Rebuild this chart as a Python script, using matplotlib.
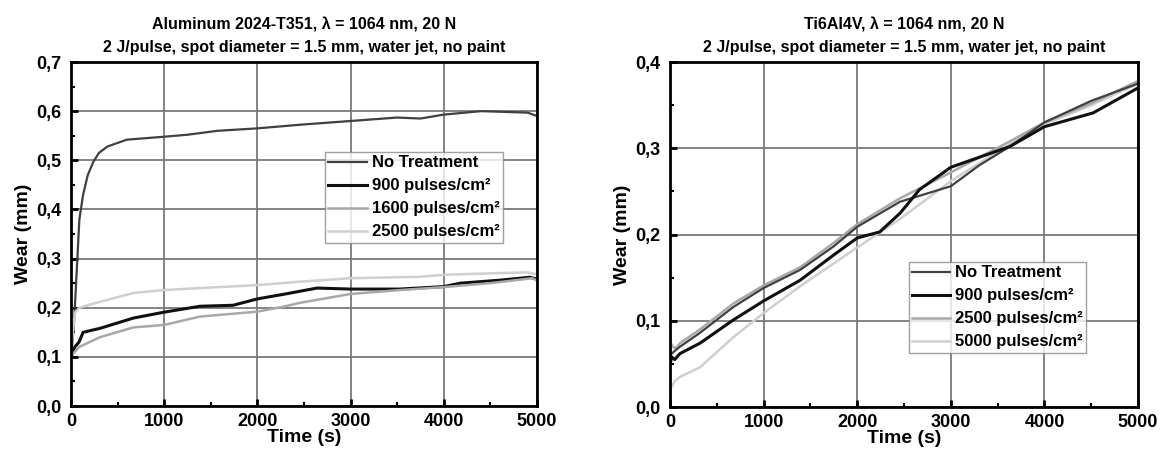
import matplotlib
matplotlib.use("Agg")
import matplotlib.pyplot as plt
from matplotlib.ticker import MultipleLocator, FuncFormatter

plt.rcParams['font.family'] = ['Liberation Sans', 'DejaVu Sans']
plt.rcParams['font.weight'] = 'bold'

# ---------------- Left: Aluminum 2024-T351 ----------------
al_nt_t = [0, 30, 60, 90, 130, 180, 240, 300, 390, 600, 1000, 1250, 1570, 2000, 2500,
           3000, 3500, 3750, 4000, 4400, 4900, 5000]
al_nt_y = [0.10, 0.16, 0.27, 0.38, 0.43, 0.47, 0.497, 0.515, 0.528, 0.542, 0.548, 0.552,
           0.56, 0.565, 0.573, 0.58, 0.587, 0.585, 0.593, 0.60, 0.597, 0.59]

al_900_t = [0, 40, 86, 130, 310, 670, 1000, 1384, 1740, 2000, 2300, 2640, 3000, 3530,
            4000, 4180, 4600, 4925, 5000]
al_900_y = [0.10, 0.12, 0.13, 0.15, 0.158, 0.179, 0.191, 0.203, 0.205, 0.218, 0.228,
            0.240, 0.238, 0.238, 0.243, 0.250, 0.256, 0.262, 0.258]

al_1600_t = [0, 40, 86, 310, 670, 1000, 1384, 2000, 2275, 2457, 3000, 3530, 4000, 4500,
             4950, 5000]
al_1600_y = [0.10, 0.11, 0.12, 0.14, 0.16, 0.165, 0.182, 0.192, 0.202, 0.21, 0.228,
             0.236, 0.242, 0.25, 0.26, 0.255]

al_2500_t = [0, 20, 43, 86, 310, 670, 1000, 1384, 2000, 2457, 3000, 3745, 4000, 4500,
             4900, 5000]
al_2500_y = [0.10, 0.15, 0.19, 0.20, 0.212, 0.23, 0.236, 0.24, 0.246, 0.253, 0.26,
             0.263, 0.267, 0.27, 0.272, 0.268]

# ---------------- Right: Ti6Al4V ----------------
ti_nt_t = [0, 50, 107, 320, 677, 1000, 1390, 1745, 2000, 2457, 3000, 3300, 3630, 4000,
           4500, 5000]
ti_nt_y = [0.06, 0.065, 0.07, 0.086, 0.116, 0.138, 0.159, 0.186, 0.209, 0.238, 0.256,
           0.28, 0.302, 0.33, 0.355, 0.375]

ti_900_t = [0, 20, 50, 107, 320, 677, 1000, 1390, 1745, 2000, 2240, 2460, 2665, 3000,
            3630, 4000, 4520, 5000]
ti_900_y = [0.05, 0.058, 0.055, 0.062, 0.074, 0.101, 0.123, 0.147, 0.176, 0.196, 0.203,
            0.225, 0.252, 0.278, 0.302, 0.325, 0.341, 0.37]

ti_2500_t = [0, 30, 60, 107, 320, 677, 1000, 1390, 1745, 2000, 2457, 3000, 3630, 4000,
             4500, 5000]
ti_2500_y = [0.075, 0.07, 0.068, 0.074, 0.09, 0.12, 0.141, 0.162, 0.19, 0.212, 0.242,
             0.272, 0.308, 0.33, 0.352, 0.378]

ti_5000_t = [0, 50, 107, 320, 677, 1000, 1390, 2000, 2457, 3000, 3630, 4000, 4500, 5000]
ti_5000_y = [0.02, 0.03, 0.035, 0.046, 0.081, 0.109, 0.14, 0.185, 0.218, 0.262, 0.305,
             0.328, 0.35, 0.375]

al_labels = ["No Treatment", "900 pulses/cm\u00b2", "1600 pulses/cm\u00b2", "2500 pulses/cm\u00b2"]
ti_labels = ["No Treatment", "900 pulses/cm\u00b2", "2500 pulses/cm\u00b2", "5000 pulses/cm\u00b2"]

colors = ["#404040", "#101010", "#a8a8a8", "#cfcfcf"]
widths = [1.6, 2.2, 1.8, 1.8]

fig = plt.figure(figsize=(11.62, 4.58), dpi=100)
ax1 = fig.add_axes([0.0611, 0.1135, 0.4010, 0.7511])
ax2 = fig.add_axes([0.5766, 0.1113, 0.4028, 0.7533])

comma = FuncFormatter(lambda v, p: ("%.1f" % v).replace(".", ","))

def style(ax, ymax, title):
    ax.set_xlim(0, 5000)
    ax.set_ylim(0, ymax)
    ax.xaxis.set_major_locator(MultipleLocator(1000))
    ax.xaxis.set_minor_locator(MultipleLocator(500))
    ax.yaxis.set_major_locator(MultipleLocator(0.1))
    ax.yaxis.set_minor_locator(MultipleLocator(0.05))
    ax.yaxis.set_major_formatter(comma)
    ax.grid(True, which='major', color='#7a7a7a', linewidth=1.3)
    ax.set_axisbelow(True)
    ax.tick_params(which='major', direction='in', length=5, width=2, labelsize=13)
    ax.tick_params(axis='y', which='major', pad=7)
    ax.tick_params(axis='x', which='major', pad=5)
    ax.tick_params(which='minor', direction='in', length=3, width=1.5)
    for s in ax.spines.values():
        s.set_linewidth(2)
        s.set_color('black')
    for lab in ax.get_xticklabels() + ax.get_yticklabels():
        lab.set_fontweight('bold')
    ax.set_xlabel("Time (s)", fontsize=14, fontweight='bold', labelpad=-1)
    ax.set_ylabel("Wear (mm)", fontsize=14, fontweight='bold', labelpad=3)
    ax.set_title(title, fontsize=11.5, fontweight='bold', pad=7, linespacing=1.65)

al_series = [(al_nt_t, al_nt_y), (al_900_t, al_900_y), (al_1600_t, al_1600_y), (al_2500_t, al_2500_y)]
for (t, y), c, w, lab in zip(al_series, colors, widths, al_labels):
    ax1.plot(t, y, color=c, linewidth=w, label=lab)

ti_series = [(ti_nt_t, ti_nt_y), (ti_900_t, ti_900_y), (ti_2500_t, ti_2500_y), (ti_5000_t, ti_5000_y)]
draw_order = [3, 2, 0, 1]
handles = {}
for i in draw_order:
    (t, y) = ti_series[i]
    handles[i], = ax2.plot(t, y, color=colors[i], linewidth=widths[i], label=ti_labels[i])

style(ax1, 0.7, "Aluminum 2024-T351, \u03bb = 1064 nm, 20 N\n2 J/pulse, spot diameter = 1.5 mm, water jet, no paint")
style(ax2, 0.4, "Ti6AI4V, \u03bb = 1064 nm, 20 N\n2 J/pulse, spot diameter = 1.5 mm, water jet, no paint")

leg_kw = dict(loc='upper left', fontsize=12, frameon=True, fancybox=False,
              edgecolor='#888888', handlelength=2.3, handletextpad=0.3,
              borderpad=0.2, labelspacing=0.48, borderaxespad=0)

leg1 = ax1.legend(bbox_to_anchor=(0.545, 0.738), **leg_kw)
leg2 = ax2.legend([handles[i] for i in range(4)], ti_labels, bbox_to_anchor=(0.51, 0.42), **leg_kw)
for leg in (leg1, leg2):
    leg.get_frame().set_linewidth(1)
    for tx in leg.get_texts():
        tx.set_fontweight('bold')

fig.savefig("out.png", dpi=100)
